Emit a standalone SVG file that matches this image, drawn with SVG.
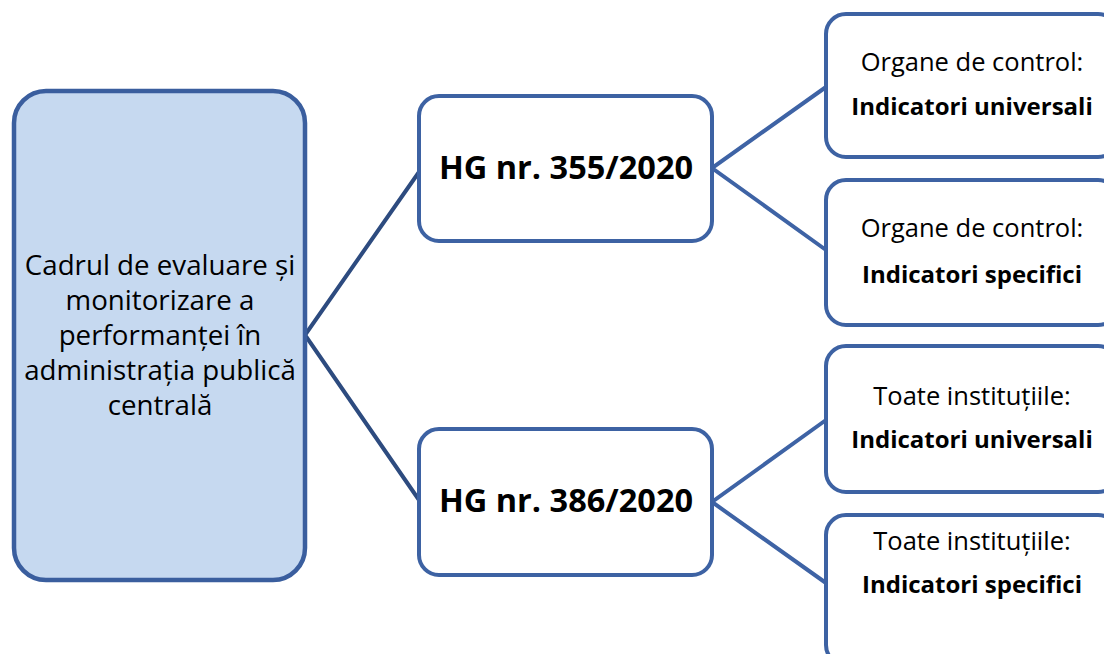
<svg xmlns="http://www.w3.org/2000/svg" width="1104" height="654" viewBox="0 0 1104 654">
<style>
.box{fill:#ffffff;stroke:#3d62a3;stroke-width:4}
.root{fill:#c6d9f0;stroke:#3a5e9e;stroke-width:4.5}
.c1{stroke:#2d4b7f;stroke-width:4;fill:none}
.c2{stroke:#3e63a5;stroke-width:4;fill:none}
text{font-family:"Open Sans","Noto Sans","Liberation Sans",sans-serif;fill:#000;text-anchor:middle}
.rt{font-size:27.7px}
.hg{font-size:32.5px;font-weight:bold}
.lr{font-size:25.5px}
.lb{font-size:24px;font-weight:bold}
</style>
<rect width="1104" height="654" fill="#ffffff"/>
<g id="connectors">
<polyline class="c1" points="419,172 305,335 419,500"/>
<polyline class="c2" points="826,87 712,168 826,250"/>
<polyline class="c2" points="826,420 712,502 826,583"/>
</g>
<g id="root">
<rect class="root" x="14" y="91" width="291" height="489" rx="32"/>
<text class="rt" x="160" y="275">Cadrul de evaluare și</text>
<text class="rt" x="160" y="310">monitorizare a</text>
<text class="rt" x="160" y="345">performanței în</text>
<text class="rt" x="160" y="380">administrația publică</text>
<text class="rt" x="160" y="415">centrală</text>
</g>
<g id="hg355">
<rect class="box" x="419" y="96" width="293" height="145" rx="20"/>
<text class="hg" x="566" y="179">HG nr. 355/2020</text>
</g>
<g id="hg386">
<rect class="box" x="419" y="429" width="293" height="146" rx="20"/>
<text class="hg" x="566" y="512">HG nr. 386/2020</text>
</g>
<g id="oc-univ">
<rect class="box" x="826" y="14" width="292" height="143" rx="20"/>
<text class="lr" x="972" y="71">Organe de control:</text>
<text class="lb" x="972" y="115">Indicatori universali</text>
</g>
<g id="oc-spec">
<rect class="box" x="826" y="180" width="292" height="145" rx="20"/>
<text class="lr" x="972" y="237">Organe de control:</text>
<text class="lb" x="972" y="283">Indicatori specifici</text>
</g>
<g id="ti-univ">
<rect class="box" x="826" y="346" width="292" height="146" rx="20"/>
<text class="lr" x="972" y="405">Toate instituțiile:</text>
<text class="lb" x="972" y="448">Indicatori universali</text>
</g>
<g id="ti-spec">
<rect class="box" x="826" y="515" width="292" height="150" rx="20"/>
<text class="lr" x="972" y="550">Toate instituțiile:</text>
<text class="lb" x="972" y="593">Indicatori specifici</text>
</g>
</svg>
